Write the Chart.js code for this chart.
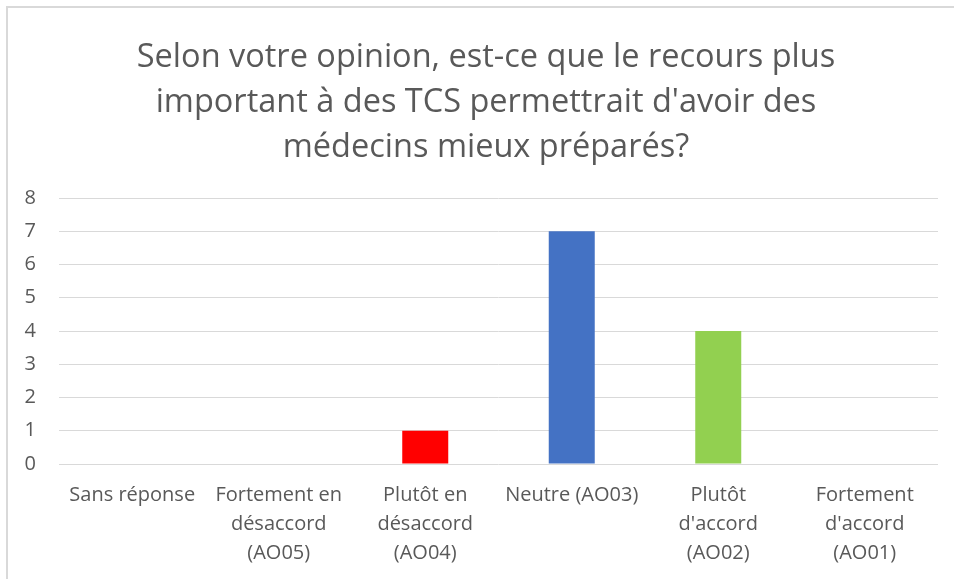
<!DOCTYPE html>
<html>
<head>
<meta charset="utf-8">
<script src="https://cdn.jsdelivr.net/npm/chart.js@4/dist/chart.umd.min.js"></script>
<style>
  html, body { margin: 0; padding: 0; background: #fff; }
  #wrap { position: relative; width: 954px; height: 579px; overflow: hidden; }
  #frame { position: absolute; left: 6px; top: 6px; width: 1000px; height: 1000px;
           border-left: 2px solid #d9d9d9; border-top: 2px solid #d9d9d9; }
  canvas { position: absolute; left: 0; top: 0; }
</style>
</head>
<body>
<div id="wrap">
  <div id="frame"></div>
  <canvas id="chart" width="972" height="585"></canvas>
</div>
<script>
// data
var categories = [
  "Sans réponse",
  ["Fortement en", "désaccord", "(AO05)"],
  ["Plutôt en", "désaccord", "(AO04)"],
  "Neutre (AO03)",
  ["Plutôt", "d'accord", "(AO02)"],
  ["Fortement", "d'accord", "(AO01)"]
];
var counts = [0, 0, 1, 7, 4, 0];
var barColors = ["#7f7f7f", "#7f7f7f", "#ff0000", "#4472c4", "#92d050", "#7f7f7f"];
var yTicks = [0, 1, 2, 3, 4, 5, 6, 7, 8];
var titleLines = [
  "Selon votre opinion, est-ce que le recours plus",
  "important à des TCS permettrait d'avoir des",
  "médecins mieux préparés?"
];

var textColor = "#595959";
var fontFamily = "'Open Sans', 'Noto Sans', sans-serif";

var ctx = document.getElementById("chart");

var chart = new Chart(ctx, {
  type: "bar",
  data: {
    labels: categories,
    datasets: [
      {
        data: counts,
        backgroundColor: barColors,
        borderWidth: 0,
        barPercentage: 0.314,
        categoryPercentage: 1
      }
    ]
  },
  options: {
    responsive: false,
    animation: false,
    layout: {
      padding: { left: 10, right: 10, top: 0, bottom: 0 }
    },
    plugins: {
      legend: { display: false },
      tooltip: { enabled: false },
      title: {
        display: true,
        text: titleLines,
        color: textColor,
        font: { family: fontFamily, size: 32.5, weight: "normal", lineHeight: 1.385 },
        padding: { top: 35, bottom: 28 }
      }
    },
    scales: {
      x: {
        grid: { display: false, drawTicks: false },
        border: { display: false },
        ticks: {
          color: textColor,
          font: { family: fontFamily, size: 20, lineHeight: 1.45 },
          padding: 17,
          maxRotation: 0,
          autoSkip: false
        }
      },
      y: {
        min: 0,
        max: 8,
        afterBuildTicks: function(scale) {
          scale.ticks = yTicks.map(function(v) { return { value: v }; });
        },
        afterFit: function(scale) { scale.width = 49; },
        grid: { color: "#d9d9d9", lineWidth: 1, drawTicks: false },
        border: { display: false },
        ticks: {
          color: textColor,
          font: { family: fontFamily, size: 20 },
          padding: 23,
          align: "center"
        }
      },
      // empty right-hand strip, only there to keep the plot edge where it is
      yRight: {
        position: "right",
        min: 0,
        max: 8,
        afterFit: function(scale) { scale.width = 24; },
        grid: { display: false, drawTicks: false },
        border: { display: false },
        ticks: { display: false }
      }
    }
  }
});
</script>
</body>
</html>
